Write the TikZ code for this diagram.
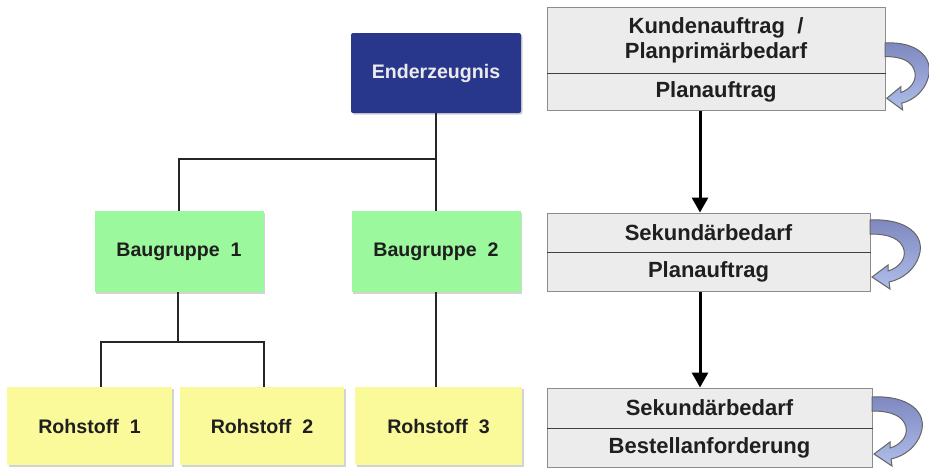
\documentclass[tikz,border=0pt]{standalone}
\usepackage{fontspec}
\setmainfont{Liberation Sans}
\usetikzlibrary{arrows.meta,shadows,calc}
\definecolor{enderblue}{RGB}{40,55,140}
\definecolor{bggreen}{RGB}{156,248,156}
\definecolor{rsyellow}{RGB}{250,250,155}
\definecolor{rboxfill}{RGB}{236,236,236}
\definecolor{rboxline}{RGB}{140,140,140}
\definecolor{loopdark}{RGB}{125,135,190}
\definecolor{looplight}{RGB}{175,190,234}
\tikzset{
  treebox/.style={inner sep=0pt, font=\fontsize{9.8}{11}\selectfont\bfseries, text=black!88,
    drop shadow={shadow xshift=0.8pt, shadow yshift=-0.8pt, opacity=0.35, fill=gray}},
  enderbox/.style={treebox, fill=enderblue, text=white!92!black, rounded corners=1pt,
    minimum width=85pt, minimum height=40pt},
  bgbox/.style={treebox, fill=bggreen, minimum width=84.5pt, minimum height=40.5pt},
  rsbox/.style={treebox, fill=rsyellow, minimum height=39pt},
  rbox/.style={draw=rboxline, line width=0.5pt, fill=rboxfill, inner sep=0pt, text=black!88,
    font=\fontsize{11}{12.5}\selectfont\bfseries, align=center},
  treeline/.style={line width=1.2pt, black!85},
  flowarrow/.style={line width=1.5pt, -{Triangle[width=8pt,length=7.5pt]}},
  divider/.style={line width=0.9pt, black!75},
  loopar/.pic={
    \path[draw=black!60, line width=0.5pt, top color=loopdark, bottom color=looplight]
      (0,0) .. controls (36,-2) and (56,15) .. (49,36)
      .. controls (45,49) and (33,59) .. (19,62)
      -- (20,69) -- (2,57) -- (18,45) -- (18,51)
      .. controls (28,48) and (36,40) .. (34,30)
      .. controls (31,19) and (20,14) .. (0,14) -- cycle;
  }
}
\begin{document}
\begin{tikzpicture}[x=0.5pt,y=-0.5pt]
\useasboundingbox (0,0) rectangle (929,468);

% tree
\node[enderbox] (ender) at (436,73) {Enderzeugnis};
\node[bgbox] (bg1) at (179,251.5) {Baugruppe\ \ 1};
\node[bgbox] (bg2) at (436,251.5) {Baugruppe\ \ 2};
\node[rsbox, minimum width=82.5pt] (rs1) at (89.5,426) {Rohstoff\ \ 1};
\node[rsbox, minimum width=82pt] (rs2) at (262,426) {Rohstoff\ \ 2};
\node[rsbox, minimum width=83.5pt] (rs3) at (438.5,426) {Rohstoff\ \ 3};

\coordinate (j1) at (436,159);
\coordinate (j2) at (178,342);
\draw[treeline] (ender.south) -- (j1) -| (bg1.north);
\draw[treeline] (j1) -- (bg2.north);
\draw[treeline] (bg1.south -| j2) -- (j2);
\draw[treeline] (j2) -| ([xshift=5.75pt]rs1.north);
\draw[treeline] (j2) -| ([xshift=1pt]rs2.north);
\draw[treeline] (bg2.south) -- (rs3.north -| bg2.south);

% right column
\node[rbox, minimum width=169pt, minimum height=33pt] (a1) at (716,40)
  {Kundenauftrag\ \ /\\Planprimärbedarf};
\node[rbox, minimum width=169pt, minimum height=18.5pt] (a2) at (716,91.5) {Planauftrag};
\node[rbox, minimum width=161.5pt, minimum height=19.5pt] (b1) at (708.5,232.5) {Sekundärbedarf};
\node[rbox, minimum width=161.5pt, minimum height=19.5pt] (b2) at (708.5,271.5) {Planauftrag};
\node[rbox, minimum width=162.5pt, minimum height=20pt] (c1) at (709.5,408) {Sekundärbedarf};
\node[rbox, minimum width=162.5pt, minimum height=19.5pt] (c2) at (709.5,447.5) {Bestellanforderung};

\draw[divider] (a1.south west) -- (a1.south east);
\draw[divider] (b1.south west) -- (b1.south east);
\draw[divider] (c1.south west) -- (c1.south east);

\coordinate (ax) at (700,0);
\draw[flowarrow] (a2.south -| ax) -- (b1.north -| ax);
\draw[flowarrow] (b2.south -| ax) -- (c1.north -| ax);

% loop arrows
\pic[xscale=0.88, yscale=0.97] at (885,43) {loopar};
\pic at (870,220) {loopar};
\pic at (872,397) {loopar};
\end{tikzpicture}
\end{document}
